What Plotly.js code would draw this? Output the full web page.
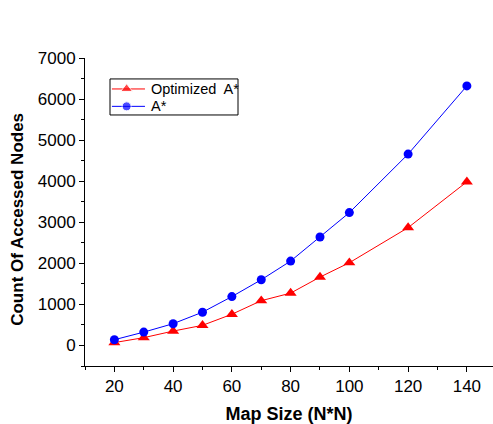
<!DOCTYPE html>
<html>
<head>
<meta charset="utf-8">
<script src="https://cdn.plot.ly/plotly-3.0.1.min.js"></script>
<style>html,body{margin:0;padding:0;background:#fff;}#chart{width:493px;height:424px;}</style>
</head>
<body>
<div id="chart"></div>
<script>
const mapSize = [20, 30, 40, 50, 60, 70, 80, 90, 100, 120, 140];
const optimizedAStar = [70, 190, 350, 490, 760, 1090, 1275, 1665, 2015, 2870, 3985];
const aStar = [140, 325, 530, 810, 1190, 1600, 2055, 2640, 3235, 4660, 6320];
const seriesNames = ["Optimized  A*", "A*"];
const seriesColors = ["#ff0000", "#0000ff"];
const seriesSymbols = ["triangle-up", "circle"];
const seriesSizes = [10.5, 9];

const font = "Arial, 'Liberation Sans', sans-serif";

const traces = [
  {
    x: mapSize, y: optimizedAStar, name: seriesNames[0], type: "scatter", mode: "lines+markers",
    line: {color: seriesColors[0], width: 1},
    marker: {symbol: seriesSymbols[0], size: seriesSizes[0], color: seriesColors[0]},
    showlegend: false
  },
  {
    x: mapSize, y: aStar, name: seriesNames[1], type: "scatter", mode: "lines+markers",
    line: {color: seriesColors[1], width: 1},
    marker: {symbol: seriesSymbols[1], size: seriesSizes[1], color: seriesColors[1]},
    showlegend: false
  }
];

// Custom legend (box, sample lines, symbols, labels) in paper coordinates
const legBox = {x0: 0.0613, x1: 0.375, y0: 0.815, y1: 0.932};
const legRows = [0.8995, 0.843];
const legLine = {x0: 0.066, x1: 0.147, xm: 0.102, xt: 0.157};

traces.push({
  x: [legLine.xm, legLine.xm], y: legRows, xaxis: "x2", yaxis: "y2",
  type: "scatter", mode: "markers", showlegend: false, hoverinfo: "skip",
  marker: {symbol: seriesSymbols, size: seriesSizes, color: seriesColors}
});

const shapes = [
  {type: "rect", xref: "paper", yref: "paper", x0: legBox.x0, x1: legBox.x1, y0: legBox.y0, y1: legBox.y1,
   line: {color: "#000", width: 1}, fillcolor: "rgba(0,0,0,0)"}
];
const annotations = [];
seriesNames.forEach((n, i) => {
  shapes.push({type: "line", xref: "paper", yref: "paper", x0: legLine.x0, x1: legLine.x1, y0: legRows[i], y1: legRows[i],
    line: {color: seriesColors[i], width: 1}, layer: "below"});
  annotations.push({xref: "paper", yref: "paper", x: legLine.xt, y: legRows[i], xanchor: "left", yanchor: "middle",
    text: n, showarrow: false, font: {family: font, size: 14.5, color: "#000"}});
});
annotations.push({xref: "paper", yref: "paper", x: -0.164, y: 0.475, xanchor: "center", yanchor: "middle",
  textangle: -90, text: "Count Of Accessed Nodes", showarrow: false,
  font: {family: font, size: 17, weight: "bold", color: "#000"}});

const layout = {
  width: 493, height: 424,
  margin: {l: 85, r: 0, t: 58, b: 57.5},
  paper_bgcolor: "#fff", plot_bgcolor: "#fff",
  font: {family: font, color: "#000", size: 17},
  showlegend: false,
  shapes: shapes,
  annotations: annotations,
  xaxis: {
    range: [10, 148.9], showgrid: false, zeroline: false,
    showline: true, linecolor: "#000", linewidth: 1,
    ticks: "outside", ticklen: 5, tickwidth: 1, tickcolor: "#000",
    tick0: 20, dtick: 20,
    minor: {ticks: "outside", ticklen: 3, tickwidth: 1, tickcolor: "#000", dtick: 10, tick0: 10, showgrid: false},
    tickfont: {family: font, size: 17},
    title: {text: "Map Size (N*N)", font: {family: font, size: 18, weight: "bold"}, standoff: 12}
  },
  yaxis: {
    range: [-500, 7000], showgrid: false, zeroline: false,
    showline: true, linecolor: "#000", linewidth: 1,
    ticks: "outside", ticklen: 5, tickwidth: 1, tickcolor: "#000",
    tick0: 0, dtick: 1000,
    minor: {ticks: "outside", ticklen: 3, tickwidth: 1, tickcolor: "#000", dtick: 500, tick0: 500, showgrid: false},
    tickfont: {family: font, size: 17}
  },
  xaxis2: {overlaying: "x", range: [0, 1], visible: false, fixedrange: true},
  yaxis2: {overlaying: "y", range: [0, 1], visible: false, fixedrange: true}
};

Plotly.newPlot("chart", traces, layout, {displayModeBar: false, staticPlot: true});
</script>
</body>
</html>
